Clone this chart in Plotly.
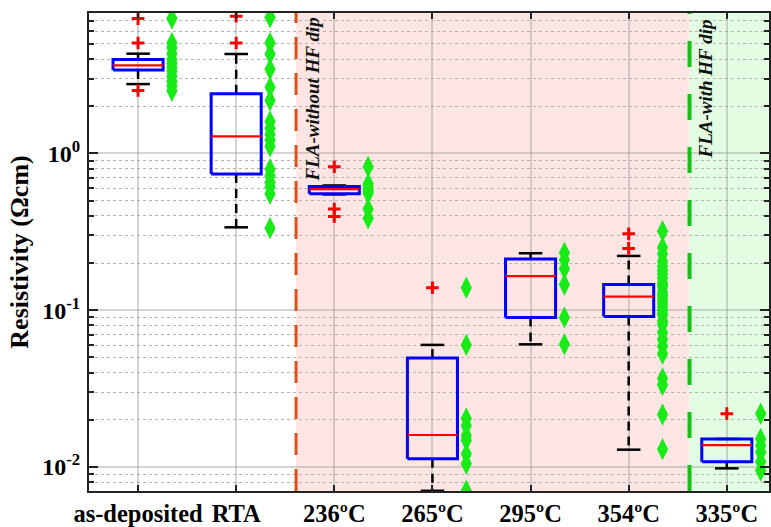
import numpy as np
import plotly.graph_objects as go

categories = ["as-deposited", "RTA", "236ºC", "265ºC", "295ºC", "354ºC", "335ºC"]

# box statistics (Ωcm)
q1 = [3.41, 0.739, 0.554, 0.0113, 0.090, 0.0912, 0.0108]
med = [3.65, 1.285, 0.593, 0.0160, 0.165, 0.122, 0.0138]
q3 = [3.97, 2.40, 0.616, 0.0496, 0.212, 0.146, 0.0151]
whisk_lo = [2.77, 0.338, 0.548, 0.00705, 0.0606, 0.0129, 0.0098]
whisk_hi = [4.33, 4.31, 0.625, 0.0601, 0.231, 0.222, 0.0151]

# outliers per group
out_asdep = [7.25, 5.06, 2.52]
out_rta = [7.5, 5.06]
out_236 = [0.822, 0.442, 0.396]
out_265 = [0.139]
out_295 = []
out_354 = [0.307, 0.248]
out_335 = [0.0219]

# individual measurements per group
pts_asdep = [7.25, 5.06, 4.72, 4.33, 3.97, 3.75, 3.54, 3.34, 3.11, 2.89, 2.69, 2.51]
pts_rta = [7.4, 5.06, 4.31, 3.44, 2.64, 2.18, 1.60, 1.45, 1.32, 1.22, 1.11,
           0.794, 0.722, 0.655, 0.61, 0.553, 0.334]
pts_236 = [0.822, 0.64, 0.61, 0.59, 0.57, 0.555, 0.442, 0.386]
pts_265 = [0.139, 0.0601, 0.0204, 0.0183, 0.0158, 0.0148, 0.0121, 0.0105, 0.00705]
pts_295 = [0.233, 0.21, 0.184, 0.146, 0.090, 0.0606]
pts_354 = [0.319, 0.251, 0.228, 0.205, 0.19, 0.18, 0.17, 0.16, 0.15, 0.145, 0.14,
           0.13, 0.125, 0.12, 0.115, 0.11, 0.105, 0.10, 0.095, 0.0934, 0.085, 0.081,
           0.072, 0.065, 0.059, 0.0527, 0.0367, 0.0333, 0.0216, 0.0130]
pts_335 = [0.0219, 0.0151, 0.0137, 0.0124, 0.0108, 0.0095]

outliers = [out_asdep, out_rta, out_236, out_265, out_295, out_354, out_335]
points = [pts_asdep, pts_rta, pts_236, pts_265, pts_295, pts_354, pts_335]

ytick_vals = [0.01, 0.1, 1]
ytick_text = ["10<sup>-2</sup>", "10<sup>-1</sup>", "10<sup>0</sup>"]

# region boundaries (category units)
fla_no_hf = 2.61
fla_hf = 6.62

BW = 0.51   # box width
CW = 0.24   # cap width
POFF = 0.345  # offset of individual points

pos = np.arange(1, len(categories) + 1)

bx, by, mx, my, wx, wy, cx, cy = [], [], [], [], [], [], [], []
for i, p in enumerate(pos):
    l, r = p - BW / 2, p + BW / 2
    bx += [l, r, r, l, l, None]
    by += [q1[i], q1[i], q3[i], q3[i], q1[i], None]
    mx += [l, r, None]
    my += [med[i], med[i], None]
    wx += [p, p, None, p, p, None]
    wy += [q3[i], whisk_hi[i], None, q1[i], whisk_lo[i], None]
    cx += [p - CW / 2, p + CW / 2, None, p - CW / 2, p + CW / 2, None]
    cy += [whisk_hi[i], whisk_hi[i], None, whisk_lo[i], whisk_lo[i], None]

ox, oy, px, py = [], [], [], []
for i, p in enumerate(pos):
    ox += [p] * len(outliers[i])
    oy += outliers[i]
    px += [p + POFF] * len(points[i])
    py += points[i]

fig = go.Figure()
fig.add_trace(go.Scatter(x=wx, y=wy, mode="lines",
                         line=dict(color="black", width=2.5, dash="9px,6px"), hoverinfo="skip"))
fig.add_trace(go.Scatter(x=cx, y=cy, mode="lines",
                         line=dict(color="black", width=2.5), hoverinfo="skip"))
fig.add_trace(go.Scatter(x=bx, y=by, mode="lines",
                         line=dict(color="#0000ff", width=3), hoverinfo="skip"))
fig.add_trace(go.Scatter(x=mx, y=my, mode="lines",
                         line=dict(color="#ff0000", width=2.2), hoverinfo="skip"))
fig.add_trace(go.Scatter(x=ox, y=oy, mode="markers",
                         marker=dict(symbol="cross-thin", size=9, color="red",
                                     line=dict(color="red", width=3))))
fig.add_trace(go.Scatter(x=px, y=py, mode="markers",
                         marker=dict(symbol="diamond-tall", size=16, color="#19eb19",
                                     line=dict(width=0))))

XMAX = 7.43
shapes = [
    dict(type="rect", xref="x", yref="paper", x0=fla_no_hf, x1=fla_hf, y0=0, y1=1,
         fillcolor="#fde5e3", line=dict(width=0), layer="below"),
    dict(type="rect", xref="x", yref="paper", x0=fla_hf, x1=XMAX, y0=0, y1=1,
         fillcolor="#e3fde3", line=dict(width=0), layer="below"),
    dict(type="line", xref="x", yref="paper", x0=fla_no_hf, x1=fla_no_hf, y0=0, y1=1,
         line=dict(color="#d95319", width=3, dash="22px,14px")),
    dict(type="line", xref="x", yref="paper", x0=fla_hf, x1=fla_hf, y0=0, y1=1,
         line=dict(color="#17c017", width=4, dash="26px,27px")),
]

annotations = [
    dict(text="<b><i>FLA-without HF dip</i></b>", x=fla_no_hf, y=1, xref="x", yref="paper",
         xanchor="left", yanchor="top", xshift=3, yshift=-3, textangle=-90, showarrow=False,
         font=dict(family="Liberation Serif", size=19, color="#111")),
    dict(text="<b><i>FLA-with HF dip</i></b>", x=fla_hf, y=1, xref="x", yref="paper",
         xanchor="left", yanchor="top", xshift=3, yshift=-5, textangle=-90, showarrow=False,
         font=dict(family="Liberation Serif", size=19, color="#111")),
]

minor_vals = []
for dec in [0.001, 0.01, 0.1, 1]:
    for k in range(2, 10):
        v = k * dec
        if 0.007 <= v <= 8:
            minor_vals.append(v)

fig.update_layout(
    width=771, height=527,
    margin=dict(l=89, r=0, t=13, b=28),
    paper_bgcolor="white", plot_bgcolor="white",
    showlegend=False,
    shapes=shapes, annotations=annotations,
    font=dict(family="Liberation Serif", color="black"),
    xaxis=dict(
        range=[0.5, XMAX], tickmode="array", tickvals=list(pos), ticktext=categories,
        tickfont=dict(size=24.5, family="Liberation Serif", weight="bold", color="black"),
        showgrid=True, gridcolor="rgba(160,160,160,0.45)", gridwidth=1.5,
        ticks="inside", ticklen=6, tickwidth=1.5, tickcolor="#222",
        showline=True, linecolor="#222", linewidth=2, mirror="ticks", zeroline=False,
    ),
    yaxis=dict(
        type="log", range=[np.log10(0.00703), np.log10(7.87)],
        tickmode="array", tickvals=ytick_vals, ticktext=ytick_text,
        tickfont=dict(size=24, family="Liberation Serif", weight="bold", color="black"),
        showgrid=True, gridcolor="rgba(160,160,160,0.45)", gridwidth=1.5,
        ticks="inside", ticklen=9, tickwidth=1.5, tickcolor="#222",
        showline=True, linecolor="#222", linewidth=2, mirror="ticks",
        minor=dict(tickmode="array", tickvals=minor_vals, ticks="inside", ticklen=5,
                   tickcolor="#222", showgrid=True, gridcolor="#b4b4b4", griddash="dot",
                   gridwidth=1.2),
        title=dict(text="<b>Resistivity (Ωcm)</b>", font=dict(size=26, family="Liberation Serif"),
                   standoff=6),
        ticklabelstandoff=2,
    ),
)

fig.write_html("out.html")
